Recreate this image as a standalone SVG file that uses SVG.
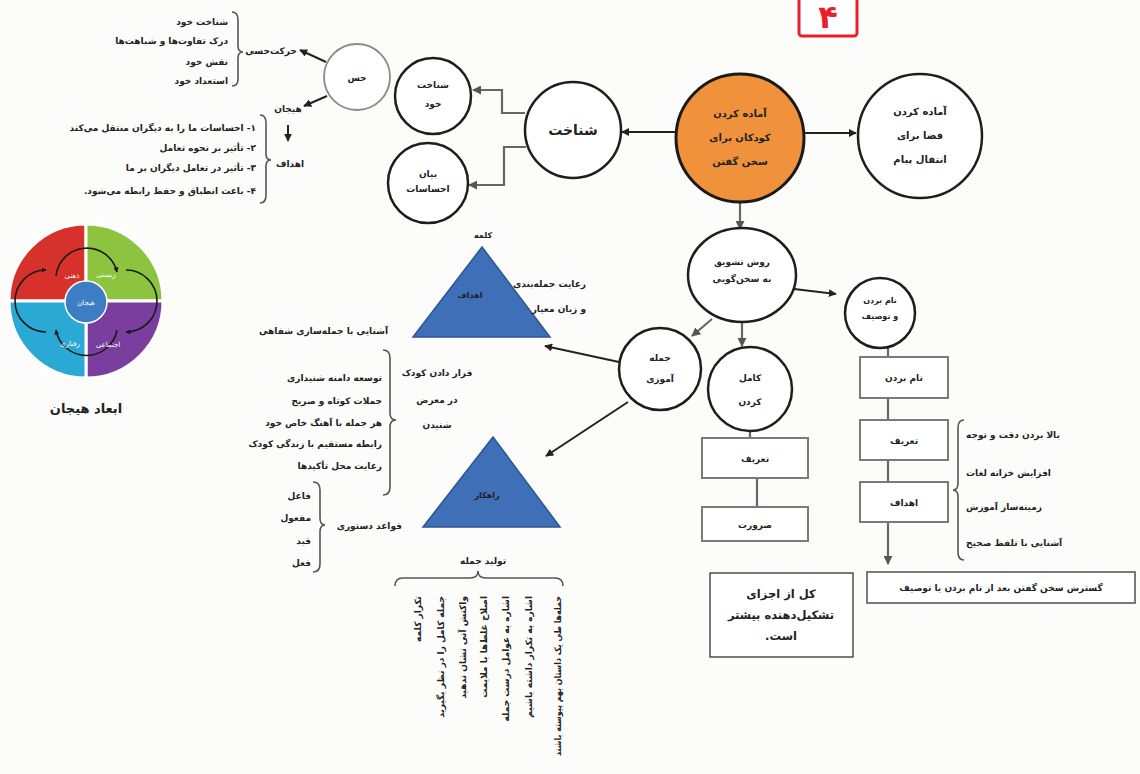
<svg xmlns="http://www.w3.org/2000/svg" width="1140" height="774" viewBox="0 0 1140 774">
<defs>
<style>
text{font-family:"DejaVu Sans","Noto Sans",sans-serif;direction:rtl;fill:#222}
.b{font-weight:bold}
.t8{font-size:8px}.t9{font-size:9px}.t10{font-size:10px}
.mid{text-anchor:middle}
.st{text-anchor:start}
.en{text-anchor:end}
.cir{fill:#fff;stroke:#1e1e1e;stroke-width:2.5}
.box{fill:#fff;stroke:#7a7a7a;stroke-width:2}
.tri{fill:#3E6FB7;stroke:#2C5595;stroke-width:1.5}
.ln{stroke:#222;stroke-width:2;fill:none}
.gl{stroke:#666;stroke-width:2.2;fill:none}
.br{stroke:#555;stroke-width:1.6;fill:none}
.lobe{stroke:#1a1a1a;stroke-width:1.6;fill:none}
.wt{fill:#fff;font-size:7px;text-anchor:middle}
</style>
<marker id="a" viewBox="0 0 10 10" refX="9" refY="5" markerWidth="8" markerHeight="8" markerUnits="userSpaceOnUse" orient="auto"><path d="M0,0 L10,5 L0,10 z" fill="#222"/></marker>
<marker id="ag" viewBox="0 0 10 10" refX="9" refY="5" markerWidth="9" markerHeight="9" markerUnits="userSpaceOnUse" orient="auto"><path d="M0,0 L10,5 L0,10 z" fill="#555"/></marker>
<marker id="as" viewBox="0 0 10 10" refX="9" refY="5" markerWidth="5" markerHeight="5" markerUnits="userSpaceOnUse" orient="auto"><path d="M0,0 L10,5 L0,10 z" fill="#1a1a1a"/></marker>
</defs>
<rect x="0" y="0" width="1140" height="774" fill="#fcfcfa"/>

<g id="connectors">
<line class="ln" x1="805" y1="133" x2="856" y2="133" marker-end="url(#a)"/>
<line class="ln" x1="676" y1="132" x2="622" y2="132" marker-end="url(#a)"/>
<path class="gl" d="M525,113 H502 V90 H473" marker-end="url(#ag)"/>
<path class="gl" d="M526,147 H504 V185 H469" marker-end="url(#ag)"/>
<line class="ln" x1="326" y1="62" x2="300" y2="50" marker-end="url(#a)"/>
<line class="ln" x1="327" y1="96" x2="304" y2="106" marker-end="url(#a)"/>
<line class="ln" x1="288" y1="125" x2="288" y2="141" marker-end="url(#a)"/>
<line class="gl" x1="740" y1="202" x2="740" y2="229" marker-end="url(#ag)"/>
<line class="gl" x1="712" y1="319" x2="692" y2="336" marker-end="url(#ag)"/>
<line class="gl" x1="742" y1="322" x2="742" y2="346" marker-end="url(#ag)"/>
<line class="ln" x1="794" y1="289" x2="836" y2="294" marker-end="url(#a)"/>
<line class="ln" x1="619" y1="362" x2="545" y2="346" marker-end="url(#a)"/>
<line class="ln" x1="628" y1="402" x2="546" y2="456" marker-end="url(#a)"/>
<line class="gl" x1="750" y1="431" x2="750" y2="438"/>
<line class="gl" x1="757" y1="478" x2="757" y2="507" stroke-width="3"/>
<line class="gl" x1="888" y1="348" x2="888" y2="357"/>
<line class="gl" x1="888" y1="398" x2="888" y2="420" stroke-width="3"/>
<line class="gl" x1="888" y1="460" x2="888" y2="482" stroke-width="3"/>
<line class="gl" x1="888" y1="522" x2="888" y2="564" stroke-width="3" marker-end="url(#ag)"/>
</g>

<g id="badge">
<rect x="799" y="-6" width="58" height="42" rx="3" fill="#fff" stroke="#E8202A" stroke-width="3"/>
<text x="828" y="28" class="mid b" style="font-size:32px;fill:#E8202A">۴</text>
</g>

<g id="n-center">
<circle cx="740" cy="138" r="64" fill="#F0923C" stroke="#1a1a1a" stroke-width="3"/>
<text x="740" y="117" class="mid b t10">آماده کردن</text>
<text x="740" y="141" class="mid b t10">کودکان برای</text>
<text x="740" y="165" class="mid b t10">سخن گفتن</text>
</g>

<g id="n-space">
<circle cx="920" cy="136" r="62" class="cir" stroke-width="3"/>
<text x="920" y="115" class="mid b t10">آماده کردن</text>
<text x="920" y="139" class="mid b t10">فضا برای</text>
<text x="920" y="163" class="mid b t10">انتقال پیام</text>
</g>

<g id="n-shenakht">
<circle cx="573" cy="130" r="48" class="cir"/>
<text x="573" y="135" class="mid b" style="font-size:14px">شناخت</text>
</g>

<g id="n-self">
<circle cx="433" cy="96" r="38" class="cir"/>
<text x="433" y="88" class="mid b t9">شناخت</text>
<text x="433" y="107" class="mid b t9">خود</text>
</g>

<g id="n-express">
<circle cx="428" cy="183" r="40" class="cir"/>
<text x="428" y="177" class="mid b t9">بیان</text>
<text x="428" y="192" class="mid b t9">احساسات</text>
</g>

<g id="n-hes">
<circle cx="357" cy="77" r="33" fill="#fff" stroke="#8a8a8a" stroke-width="1.8"/>
<text x="357" y="81" class="mid b t9">حس</text>
</g>

<g id="hes-top">
<text x="271" y="54" class="mid b t9">حرکت‌حسی</text>
<path class="br" d="M232,12 Q238,12 238,20 V46 Q238,52 243,52 Q238,52 238,58 V79 Q238,86 232,86"/>
<text x="228" y="25" class="st b t9">شناخت خود</text>
<text x="228" y="44" class="st b t9">درک تفاوت‌ها و شباهت‌ها</text>
<text x="228" y="65" class="st b t9">نقش خود</text>
<text x="228" y="84" class="st b t9">استعداد خود</text>
</g>

<g id="hes-bottom">
<text x="288" y="112" class="mid b t9">هیجان</text>
<text x="290" y="167" class="mid b t9">اهداف</text>
<path class="br" d="M260,115 Q266,115 266,123 V154 Q266,160 271,160 Q266,160 266,166 V195 Q266,203 260,203"/>
<text x="256" y="131" class="st b t9">۱- احساسات ما را به دیگران منتقل می‌کند</text>
<text x="256" y="151" class="st b t9">۲- تأثیر بر نحوه تعامل</text>
<text x="256" y="171" class="st b t9">۳- تأثیر در تعامل دیگران بر ما</text>
<text x="256" y="194" class="st b t9">۴- باعث انطباق و حفظ رابطه می‌شود.</text>
</g>

<g id="wheel">
<path d="M86,301 L9,301 A77,77 0 0 1 86,224 Z" fill="#D7312C" stroke="#fff" stroke-width="3"/>
<path d="M86,301 L86,224 A77,77 0 0 1 163,301 Z" fill="#8CC43F" stroke="#fff" stroke-width="3"/>
<path d="M86,301 L163,301 A77,77 0 0 1 86,378 Z" fill="#7A3F9E" stroke="#fff" stroke-width="3"/>
<path d="M86,301 L86,378 A77,77 0 0 1 9,301 Z" fill="#2AA9D4" stroke="#fff" stroke-width="3"/>
<path class="lobe" d="M56,276 A31,31 0 0 1 117,272" marker-end="url(#as)"/>
<path class="lobe" d="M126,270 A31,31 0 0 1 126,332" marker-end="url(#as)"/>
<path class="lobe" d="M117,330 A31,31 0 0 1 56,330" marker-end="url(#as)"/>
<path class="lobe" d="M46,332 A31,31 0 0 1 46,270" marker-end="url(#as)"/>
<circle cx="86" cy="302" r="21" fill="#3C7DC4" stroke="#fff" stroke-width="1.5"/>
<text x="86" y="305" class="wt">هیجان</text>
<text x="72" y="278" class="wt">ذهنی</text>
<text x="106" y="277" class="wt">زیستی</text>
<text x="70" y="346" class="wt">رفتاری</text>
<text x="108" y="347" class="wt">اجتماعی</text>
<text x="86" y="413" class="mid b" style="font-size:13px">ابعاد هیجان</text>
</g>

<g id="tri-goals">
<polygon class="tri" points="482,247 550,337 413,337"/>
<text x="483" y="238" class="mid b t8">کلمه</text>
<text x="470" y="298" class="mid b t8">اهداف</text>
<text x="586" y="287" class="st b t9">رعایت جمله‌بندی</text>
<text x="586" y="312" class="st b t9">و زبان معیار</text>
<text x="388" y="334" class="st b t9">آشنایی با جمله‌سازی شفاهی</text>
</g>

<g id="listen">
<text x="437" y="376" class="mid b t9">قرار دادن کودک</text>
<text x="437" y="403" class="mid b t9">در معرض</text>
<text x="437" y="428" class="mid b t9">شنیدن</text>
<path class="br" d="M383,350 Q390,350 390,358 V413 Q390,420 396,420 Q390,420 390,427 V487 Q390,495 383,495"/>
<text x="382" y="381" class="st b t9">توسعه دامنه شنیداری</text>
<text x="382" y="404" class="st b t9">جملات کوتاه و صریح</text>
<text x="382" y="426" class="st b t9">هر جمله با آهنگ خاص خود</text>
<text x="382" y="447" class="st b t9">رابطه مستقیم با زندگی کودک</text>
<text x="382" y="469" class="st b t9">رعایت محل تأکیدها</text>
</g>

<g id="tri-strategy">
<polygon class="tri" points="493,437 560,527 423,527"/>
<text x="487" y="498" class="mid b t8">راهکار</text>
</g>

<g id="grammar">
<text x="402" y="529" class="st b t9">قواعد دستوری</text>
<path class="br" d="M313,482 Q320,482 320,490 V518 Q320,525 325,525 Q320,525 320,532 V564 Q320,572 313,572"/>
<text x="311" y="499" class="st b t9">فاعل</text>
<text x="311" y="521" class="st b t9">مفعول</text>
<text x="311" y="544" class="st b t9">قید</text>
<text x="311" y="566" class="st b t9">فعل</text>
</g>

<g id="production">
<text x="483" y="564" class="mid b t9">تولید جمله</text>
<path class="br" d="M395,586 Q395,578 403,578 H470 Q478,578 478,571 Q478,578 486,578 H555 Q563,578 563,586"/>
<text transform="translate(421,596) rotate(-90)" class="st b t9">تکرار کلمه</text>
<text transform="translate(444,596) rotate(-90)" class="st b t9">جمله کامل را در نظر بگیرید</text>
<text transform="translate(466,596) rotate(-90)" class="st b t9">واکنش آنی نشان ندهید</text>
<text transform="translate(487,596) rotate(-90)" class="st b t9">اصلاح غلط‌ها با ملایمت</text>
<text transform="translate(509,596) rotate(-90)" class="st b t9">اشاره به عوامل درست جمله</text>
<text transform="translate(532,596) rotate(-90)" class="st b t9">اشاره به تکرار داشته باشیم</text>
<text transform="translate(561,596) rotate(-90)" class="st b t9" textLength="160" lengthAdjust="spacingAndGlyphs">جمله‌ها طی یک داستان بهم پیوسته باشند</text>
</g>

<g id="n-ravesh">
<ellipse cx="742" cy="275" rx="54" ry="47" class="cir"/>
<text x="742" y="265" class="mid b t9">روش تشویق</text>
<text x="742" y="282" class="mid b t9">به سخن‌گویی</text>
</g>

<g id="n-jomle">
<circle cx="660" cy="369" r="41" class="cir"/>
<text x="660" y="361" class="mid b t9">جمله</text>
<text x="660" y="382" class="mid b t9">آموزی</text>
</g>

<g id="n-kamel">
<circle cx="750" cy="389" r="42" class="cir"/>
<text x="750" y="381" class="mid b t9">کامل</text>
<text x="750" y="405" class="mid b t9">کردن</text>
</g>

<g id="box-tarif1">
<rect x="702" y="438" width="106" height="40" class="box"/>
<text x="755" y="462" class="mid b t9">تعریف</text>
</g>
<g id="box-zarurat">
<rect x="702" y="507" width="106" height="34" class="box"/>
<text x="755" y="528" class="mid b t9">ضرورت</text>
</g>

<g id="n-nam">
<circle cx="880" cy="313" r="35" class="cir"/>
<text x="880" y="303" class="mid b t8">نام بردن</text>
<text x="880" y="319" class="mid b t8">و توصیف</text>
</g>

<g id="box-nam">
<rect x="860" y="357" width="88" height="41" class="box"/>
<text x="904" y="381" class="mid b t9">نام بردن</text>
</g>
<g id="box-tarif2">
<rect x="860" y="420" width="88" height="40" class="box"/>
<text x="904" y="444" class="mid b t9">تعریف</text>
</g>
<g id="box-ahdaf">
<rect x="860" y="482" width="88" height="40" class="box"/>
<text x="904" y="506" class="mid b t9">اهداف</text>
</g>

<g id="goals-list">
<path class="br" d="M964,420 Q958,420 958,428 V483 Q958,490 953,490 Q958,490 958,497 V552 Q958,560 964,560"/>
<text x="966" y="438" class="en b t9">بالا بردن دقت و توجه</text>
<text x="966" y="476" class="en b t9">افزایش خزانه لغات</text>
<text x="966" y="510" class="en b t9">زمینه‌ساز آموزش</text>
<text x="966" y="546" class="en b t9">آشنایی با تلفظ صحیح</text>
</g>

<g id="box-long">
<rect x="867" y="572" width="268" height="31" class="box"/>
<text x="1001" y="591" class="mid b t9">گسترش سخن گفتن بعد از نام بردن یا توصیف</text>
</g>

<g id="note">
<rect x="710" y="573" width="143" height="84" fill="#fff" stroke="#222" stroke-width="1.2"/>
<text x="781" y="598" class="mid b" style="font-size:11.5px">کل از اجزای</text>
<text x="781" y="619" class="mid b" style="font-size:11.5px">تشکیل‌دهنده بیشتر</text>
<text x="781" y="640" class="mid b" style="font-size:11.5px">است.</text>
</g>
</svg>
